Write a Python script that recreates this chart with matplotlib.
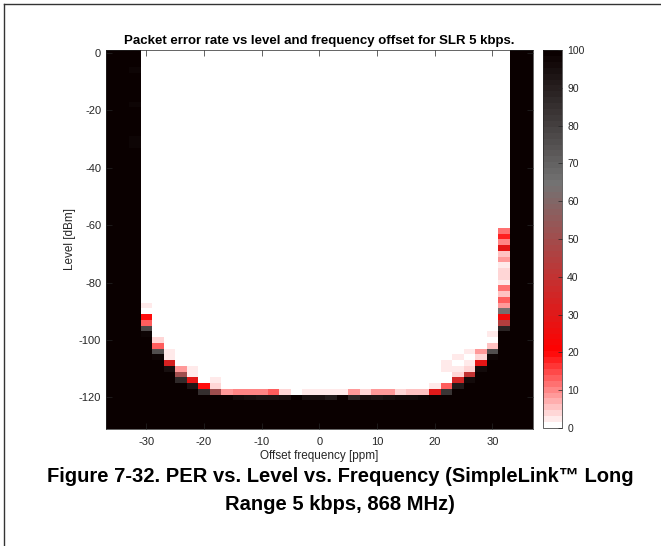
import numpy as np
import matplotlib
matplotlib.use("Agg")
import matplotlib.pyplot as plt
from matplotlib.colors import LinearSegmentedColormap
from matplotlib.lines import Line2D

plt.rcParams['font.family'] = ['Liberation Sans', 'DejaVu Sans']
plt.rcParams['axes.unicode_minus'] = False

# offset frequency (ppm) columns and level (dBm) rows
freq = [-36, -34, -32, -30, -28, -26, -24, -22, -20, -18, -16, -14, -12, -10, -8, -6, -4, -2,
        0, 2, 4, 6, 8, 10, 12, 14, 16, 18, 20, 22, 24, 26, 28, 30, 32, 34, 36]
level = [0, -2, -4, -6, -8, -10, -12, -14, -16, -18, -20, -22, -24, -26, -28, -30, -32, -34,
         -36, -38, -40, -42, -44, -46, -48, -50, -52, -54, -56, -58, -60, -62, -64, -66, -68,
         -70, -72, -74, -76, -78, -80, -82, -84, -86, -88, -90, -92, -94, -96, -98, -100, -102,
         -104, -106, -108, -110, -112, -114, -116, -118, -120, -122, -124, -126, -128, -130]

# per column: level where the transition starts, PER values going down from there
# (above -> 0 %, below -> 100 %)
edge_start = [0, 0, 0, -88, -100, -104, -110, -110, -116, -114, -118, -118, -118, -118, -118,
              -118, -118, -118, -118, -118, -118, -118, -118, -118, -118, -118, -118, -118,
              -116, -108, -104, -104, -104, -98, -62, 0, 0]
edge_vals = [
    [], [], [],
    [2, 0, 20, 12.5, 77, 97],
    [3.5, 12.5, 75, 97],
    [3, 2, 33, 95],
    [8.5, 50, 87],
    [2, 2, 29, 93],
    [20, 85],
    [2, 4, 50],
    [9],
    [9.5, 96],
    [9.5, 95],
    [9.5, 93],
    [13.5, 93],
    [4, 94],
    [0, 100],
    [3, 95],
    [2, 95],
    [2, 92],
    [2, 100],
    [8.5, 88],
    [4, 95],
    [8.5, 93],
    [9, 95],
    [4, 96],
    [5, 96],
    [5, 97],
    [2, 30],
    [2, 2, 1, 0, 12.5, 83],
    [0, 2, 0.5, 2, 3.5, 35, 92],
    [2, 0, 2, 4, 40, 96],
    [8.5, 4.5, 29, 96],
    [2, 0, 5, 75, 97],
    [12, 17.5, 10, 29, 6.2, 8, 2, 4.3, 4.3, 3, 11, 5.5, 12.5, 8.7, 63, 24, 45, 89],
    [], [],
]

# a few slightly lighter cells inside the black area
faint_freq = [-32, -32, -32, -32]
faint_level = [-6, -18, -30, -32]
faint_val = [97, 97, 97, 97]


def build_grid():
    per = np.zeros((len(level), len(freq)))
    for j in range(len(freq)):
        i0 = level.index(edge_start[j])
        vals = edge_vals[j]
        per[i0:i0 + len(vals), j] = vals
        per[i0 + len(vals):, j] = 100
    for f, l, v in zip(faint_freq, faint_level, faint_val):
        per[level.index(l), freq.index(f)] = v
    return per


per = build_grid()

cmap = LinearSegmentedColormap.from_list(
    'per', [(0, (1, 1, 1)), (0.2, (1, 0, 0)), (0.65, (0.45, 0.45, 0.45)), (1, (0.04, 0, 0))], N=64)

W, H = 661, 546
fig = plt.figure(figsize=(W / 100, H / 100), dpi=100)
ax = fig.add_axes([106 / W, 1 - 429 / H, (532.7 - 106) / W, (429 - 50) / H])
cax = fig.add_axes([542.7 / W, 1 - 428 / H, 19.6 / W, (428 - 50) / H])

dx = (freq[1] - freq[0]) / 2
dy = (level[0] - level[1]) / 2
im = ax.imshow(per, cmap=cmap, vmin=0, vmax=100, aspect='auto', interpolation='nearest',
               extent=[freq[0] - dx, freq[-1] + dx, level[-1] - dy, level[0] + dy])

tc = (0.15, 0.15, 0.15)
ax.set_xticks([-30, -20, -10, 0, 10, 20, 30])
ax.set_yticks([0, -20, -40, -60, -80, -100, -120])
ax.tick_params(direction='in', top=True, right=True, length=4, width=0.5,
               labelsize=8, colors=tc)
ax.tick_params(axis='x', pad=6)
for s in ax.spines.values():
    s.set_linewidth(0.5)
    s.set_color(tc)
ax.set_xlabel("Offset frequency [ppm]", fontsize=8.5, color=tc, labelpad=2)
ax.set_ylabel("Level [dBm]", fontsize=8.5, color=tc, labelpad=2)
ax.set_title("Packet error rate vs level and frequency offset for SLR 5 kbps.",
             fontsize=9.5, fontweight='bold', pad=4)

cb = fig.colorbar(im, cax=cax)
cb.set_ticks(np.arange(0, 101, 10))
cb.ax.tick_params(direction='in', length=3, width=0.5, labelsize=7.5, colors=tc)
cb.outline.set_linewidth(0.5)
cb.outline.set_edgecolor(tc)

fig.text(340 / W, 1 - 476 / H, "Figure 7-32. PER vs. Level vs. Frequency (SimpleLink™ Long",
         ha='center', va='center', fontsize=14.5, fontweight='bold')
fig.text(340 / W, 1 - 505 / H, "Range 5 kbps, 868 MHz)",
         ha='center', va='center', fontsize=14.5, fontweight='bold')

# page frame (left and top edges visible)
fig.add_artist(Line2D([4 / W, 4 / W], [0, 1 - 4 / H], color='#333333', lw=1))
fig.add_artist(Line2D([4 / W, 1], [1 - 4 / H, 1 - 4 / H], color='#333333', lw=1))

plt.savefig("out.png", dpi=100)
